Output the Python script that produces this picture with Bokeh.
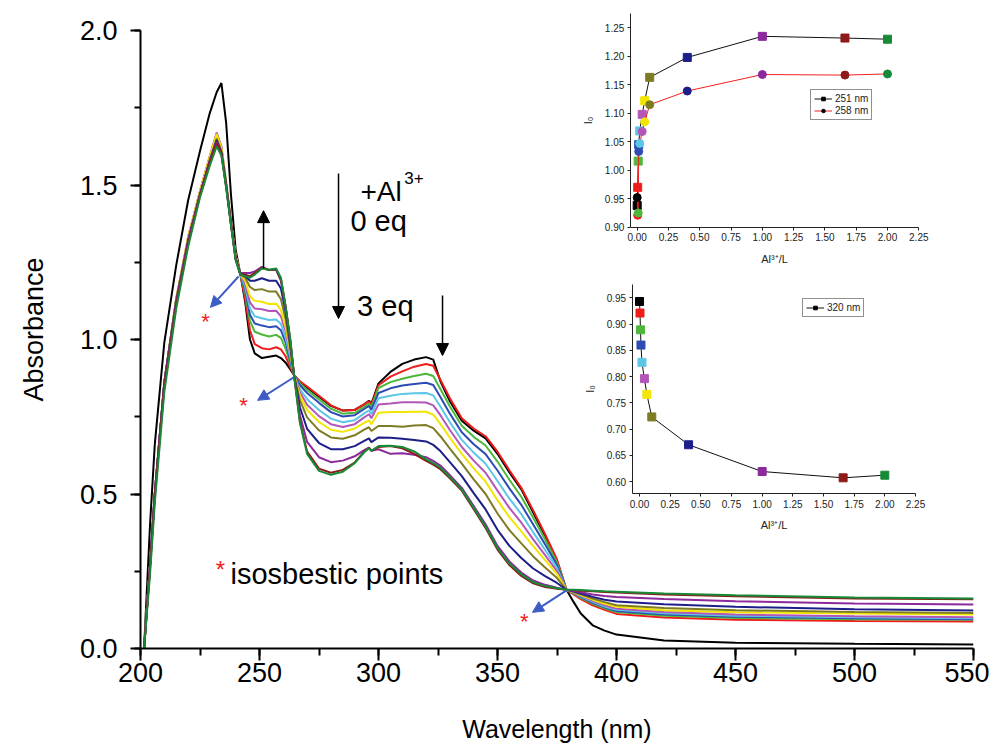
from bokeh.plotting import figure
from bokeh.models import (Range1d, LinearAxis, FixedTicker, SingleIntervalTicker,
                          NumeralTickFormatter, Arrow, NormalHead, Label, Legend,
                          LegendItem, ColumnDataSource)
from bokeh.embed import file_html
from bokeh.resources import INLINE

# ---------------- data ----------------
wavelength = [201.5, 204, 206, 210, 215, 220, 225, 229, 232, 234,
              236, 238, 240, 242, 244, 246, 248, 251, 254, 257,
              259, 261, 263, 264.5, 267, 270, 275, 280, 285, 290,
              294, 296, 297, 300, 305, 310, 315, 320, 323, 326,
              330, 335, 340, 345, 350, 355, 360, 365, 370, 375,
              379, 382, 385, 390, 395, 400, 420, 450, 500, 550]

abs_0eq = [0.0, 0.40, 0.66, 0.99, 1.24, 1.45, 1.61, 1.73, 1.80, 1.83,
           1.70, 1.47, 1.29, 1.21, 1.12, 1.00, 0.955, 0.940, 0.944, 0.948,
           0.940, 0.925, 0.902, 0.885, 0.862, 0.845, 0.815, 0.785, 0.770, 0.772,
           0.790, 0.802, 0.792, 0.858, 0.895, 0.921, 0.935, 0.943, 0.935, 0.865,
           0.800, 0.737, 0.705, 0.680, 0.630, 0.570, 0.515, 0.440, 0.365, 0.283,
           0.190, 0.150, 0.113, 0.075, 0.058, 0.045, 0.026, 0.019, 0.015, 0.013]
abs_red = [0.0, 0.27, 0.50, 0.86, 1.13, 1.33, 1.48, 1.59, 1.665, 1.62,
           1.50, 1.38, 1.27, 1.21, 1.13, 1.03, 0.985, 0.972, 0.968, 0.975,
           0.968, 0.945, 0.910, 0.885, 0.865, 0.848, 0.818, 0.787, 0.770, 0.772,
           0.790, 0.800, 0.788, 0.852, 0.880, 0.897, 0.912, 0.921, 0.915, 0.870,
           0.810, 0.745, 0.712, 0.687, 0.637, 0.577, 0.520, 0.447, 0.370, 0.288,
           0.190, 0.175, 0.160, 0.140, 0.125, 0.112, 0.100, 0.093, 0.089, 0.087]
abs_green = [0.0, 0.27, 0.50, 0.86, 1.13, 1.32, 1.47, 1.585, 1.66, 1.615,
             1.50, 1.38, 1.265, 1.21, 1.15, 1.06, 1.025, 1.016, 1.010, 1.015,
             1.005, 0.970, 0.920, 0.885, 0.858, 0.837, 0.806, 0.776, 0.760, 0.763,
             0.782, 0.793, 0.780, 0.843, 0.862, 0.873, 0.882, 0.889, 0.882, 0.840,
             0.783, 0.721, 0.685, 0.657, 0.605, 0.546, 0.491, 0.423, 0.353, 0.278,
             0.190, 0.178, 0.164, 0.145, 0.130, 0.118, 0.106, 0.099, 0.095, 0.093]
abs_blue = [0.0, 0.27, 0.50, 0.86, 1.13, 1.32, 1.47, 1.58, 1.655, 1.61,
            1.50, 1.38, 1.265, 1.21, 1.16, 1.08, 1.052, 1.045, 1.040, 1.043,
            1.030, 0.990, 0.930, 0.885, 0.852, 0.827, 0.795, 0.765, 0.751, 0.755,
            0.775, 0.785, 0.772, 0.827, 0.842, 0.851, 0.856, 0.860, 0.853, 0.814,
            0.760, 0.700, 0.661, 0.629, 0.576, 0.518, 0.465, 0.401, 0.337, 0.270,
            0.190, 0.179, 0.167, 0.148, 0.133, 0.121, 0.110, 0.103, 0.098, 0.095]
abs_cyan = [0.0, 0.27, 0.50, 0.86, 1.13, 1.32, 1.47, 1.585, 1.66, 1.615,
            1.50, 1.38, 1.265, 1.21, 1.17, 1.10, 1.075, 1.069, 1.063, 1.065,
            1.050, 1.005, 0.940, 0.885, 0.839, 0.807, 0.772, 0.744, 0.732, 0.739,
            0.761, 0.771, 0.758, 0.810, 0.818, 0.824, 0.826, 0.827, 0.819, 0.783,
            0.732, 0.675, 0.634, 0.598, 0.542, 0.485, 0.435, 0.376, 0.319, 0.260,
            0.190, 0.180, 0.169, 0.151, 0.136, 0.125, 0.114, 0.106, 0.101, 0.098]
abs_magenta = [0.0, 0.27, 0.50, 0.86, 1.13, 1.33, 1.48, 1.59, 1.67, 1.625,
               1.51, 1.385, 1.27, 1.21, 1.18, 1.12, 1.10, 1.098, 1.092, 1.093,
               1.075, 1.025, 0.950, 0.885, 0.829, 0.789, 0.752, 0.726, 0.717, 0.726,
               0.748, 0.758, 0.745, 0.790, 0.793, 0.797, 0.797, 0.796, 0.787, 0.755,
               0.707, 0.652, 0.608, 0.569, 0.511, 0.455, 0.407, 0.353, 0.302, 0.250,
               0.190, 0.181, 0.171, 0.154, 0.140, 0.129, 0.118, 0.110, 0.104, 0.101]
abs_yellow = [0.0, 0.27, 0.50, 0.86, 1.13, 1.33, 1.48, 1.59, 1.665, 1.62,
              1.505, 1.38, 1.27, 1.21, 1.19, 1.14, 1.125, 1.122, 1.115, 1.116,
              1.095, 1.040, 0.955, 0.885, 0.818, 0.772, 0.733, 0.708, 0.701, 0.712,
              0.730, 0.738, 0.726, 0.763, 0.765, 0.765, 0.766, 0.766, 0.757, 0.727,
              0.682, 0.630, 0.583, 0.540, 0.480, 0.425, 0.379, 0.331, 0.286, 0.241,
              0.190, 0.182, 0.173, 0.158, 0.145, 0.135, 0.124, 0.117, 0.113, 0.110]
abs_olive = [0.0, 0.27, 0.50, 0.86, 1.13, 1.32, 1.47, 1.58, 1.65, 1.61,
             1.50, 1.38, 1.265, 1.21, 1.20, 1.17, 1.16, 1.163, 1.155, 1.155,
             1.130, 1.065, 0.965, 0.885, 0.803, 0.748, 0.706, 0.683, 0.679, 0.690,
             0.708, 0.716, 0.704, 0.720, 0.720, 0.718, 0.722, 0.723, 0.713, 0.687,
             0.647, 0.598, 0.547, 0.500, 0.437, 0.383, 0.340, 0.298, 0.262, 0.228,
             0.190, 0.183, 0.175, 0.162, 0.150, 0.140, 0.131, 0.124, 0.118, 0.115]
abs_navy = [0.0, 0.27, 0.50, 0.86, 1.12, 1.32, 1.47, 1.575, 1.645, 1.605,
            1.50, 1.375, 1.26, 1.21, 1.205, 1.19, 1.19, 1.198, 1.190, 1.190,
            1.165, 1.090, 0.980, 0.885, 0.780, 0.711, 0.665, 0.645, 0.645, 0.655,
            0.672, 0.680, 0.668, 0.683, 0.682, 0.679, 0.675, 0.670, 0.659, 0.639,
            0.603, 0.558, 0.503, 0.450, 0.384, 0.332, 0.293, 0.259, 0.234, 0.212,
            0.190, 0.185, 0.178, 0.167, 0.158, 0.152, 0.143, 0.135, 0.127, 0.123]
abs_purple = [0.0, 0.27, 0.50, 0.86, 1.12, 1.32, 1.47, 1.575, 1.64, 1.60,
              1.495, 1.375, 1.26, 1.215, 1.215, 1.215, 1.22, 1.235, 1.225, 1.225,
              1.190, 1.105, 0.990, 0.885, 0.754, 0.669, 0.619, 0.603, 0.608, 0.622,
              0.642, 0.650, 0.640, 0.645, 0.630, 0.632, 0.627, 0.619, 0.607, 0.592,
              0.561, 0.520, 0.461, 0.402, 0.332, 0.282, 0.246, 0.220, 0.206, 0.197,
              0.190, 0.187, 0.182, 0.175, 0.170, 0.167, 0.160, 0.153, 0.146, 0.142]
abs_darkred = [0.0, 0.26, 0.49, 0.85, 1.11, 1.31, 1.465, 1.57, 1.635, 1.60,
               1.495, 1.375, 1.26, 1.21, 1.21, 1.205, 1.215, 1.232, 1.225, 1.228,
               1.195, 1.105, 0.995, 0.885, 0.734, 0.637, 0.582, 0.569, 0.578, 0.602,
               0.637, 0.650, 0.640, 0.652, 0.655, 0.648, 0.630, 0.607, 0.595, 0.580,
               0.551, 0.511, 0.451, 0.390, 0.320, 0.270, 0.235, 0.211, 0.199, 0.193,
               0.190, 0.189, 0.187, 0.185, 0.183, 0.181, 0.175, 0.169, 0.162, 0.159]
abs_darkgreen = [0.0, 0.24, 0.47, 0.83, 1.10, 1.30, 1.46, 1.56, 1.625, 1.595,
                 1.49, 1.37, 1.255, 1.21, 1.205, 1.200, 1.210, 1.230, 1.226, 1.230,
                 1.200, 1.105, 0.997, 0.885, 0.730, 0.630, 0.575, 0.562, 0.572, 0.600,
                 0.635, 0.648, 0.640, 0.655, 0.656, 0.652, 0.638, 0.612, 0.600, 0.585,
                 0.555, 0.515, 0.455, 0.395, 0.325, 0.275, 0.240, 0.215, 0.202, 0.195,
                 0.190, 0.190, 0.189, 0.187, 0.185, 0.184, 0.178, 0.172, 0.165, 0.162]

spectra = [abs_0eq, abs_red, abs_green, abs_blue, abs_cyan, abs_magenta,
           abs_yellow, abs_olive, abs_navy, abs_purple, abs_darkred, abs_darkgreen]
series_colors = ["#000000", "#f01c1c", "#4cb83a", "#2c4cb4", "#5cc6e6", "#b455b8",
                 "#f2e600", "#7e7c22", "#1e1e8a", "#8c2a9c", "#8e1a1a", "#178a38"]

# inset data
al_ratio = [0.0, 0.004, 0.008, 0.012, 0.02, 0.04, 0.06, 0.1, 0.4, 1.0, 1.66, 2.0]
i_251 = [0.938, 0.970, 1.016, 1.045, 1.069, 1.098, 1.122, 1.163, 1.198, 1.235, 1.232, 1.230]
i_258 = [0.952, 0.921, 0.925, 1.033, 1.047, 1.068, 1.085, 1.115, 1.139, 1.168, 1.167, 1.169]
i_320 = [0.943, 0.921, 0.889, 0.860, 0.827, 0.796, 0.766, 0.723, 0.670, 0.619, 0.607, 0.612]

inset_x_ticks = [0.0, 0.25, 0.5, 0.75, 1.0, 1.25, 1.5, 1.75, 2.0, 2.25]
inset1_y_ticks = [0.90, 0.95, 1.00, 1.05, 1.10, 1.15, 1.20, 1.25]
inset2_y_ticks = [0.60, 0.65, 0.70, 0.75, 0.80, 0.85, 0.90, 0.95]

# ---------------- layout ----------------
FONT = "Liberation Sans"
W, H = 989, 746
FL, FR, FT, FB = 140, 973, 10, 648          # frame edges in page pixels
Y0_PX, Y2_PX = 648, 30                     # pixel rows of A = 0 and A = 2
y_end = 2.0 * (FB - FT) / (Y0_PX - Y2_PX)

p = figure(width=W, height=H, output_backend="svg", toolbar_location=None,
           x_range=Range1d(200, 550), y_range=Range1d(0, y_end),
           x_axis_type=None, y_axis_type=None,
           min_border_left=FL, min_border_right=W - FR,
           min_border_top=FT, min_border_bottom=H - FB)
p.outline_line_color = None
p.background_fill_color = "white"
p.border_fill_color = "white"


def lin_range(v0, p0, v1, p1, a_px, b_px):
    k = (v1 - v0) / (p1 - p0)
    return Range1d(v0 + (a_px - p0) * k, v0 + (b_px - p0) * k)


p.extra_x_ranges = {
    "ix1": lin_range(0.0, 636.7, 2.25, 918.3, FL, FR),
    "ix2": lin_range(0.0, 639.0, 2.25, 915.0, FL, FR),
}
p.extra_y_ranges = {
    "iy1": lin_range(0.90, 226.7, 1.25, 27.3, FB, FT),
    "iy2": lin_range(0.60, 481.0, 0.95, 297.3, FB, FT),
}

# ---------------- main axes ----------------
xax = LinearAxis(ticker=SingleIntervalTicker(interval=50, num_minor_ticks=2),
                 axis_label="Wavelength (nm)")
yax = LinearAxis(ticker=SingleIntervalTicker(interval=0.5, num_minor_ticks=2),
                 formatter=NumeralTickFormatter(format="0.0"), bounds=(0, 2.0),
                 axis_label="Absorbance")
for ax in (xax, yax):
    ax.axis_line_width = 2
    ax.major_tick_line_width = 2
    ax.minor_tick_line_width = 2
    ax.major_tick_in = 0
    ax.minor_tick_in = 0
    ax.major_label_text_font = FONT
    ax.major_label_text_font_size = "27px"
    ax.major_label_text_color = "black"
    ax.axis_label_text_font = FONT
    ax.axis_label_text_font_style = "normal"
    ax.axis_label_text_color = "black"
xax.axis_label_text_font_size = "25px"
yax.axis_label_text_font_size = "27px"
xax.major_tick_out = 12
xax.minor_tick_out = 7
xax.major_label_standoff = 2
xax.axis_label_standoff = 30
yax.major_tick_out = 10
yax.minor_tick_out = 6
yax.major_label_standoff = 13
yax.axis_label_standoff = 28
p.add_layout(xax, "below")
p.add_layout(yax, "left")

# ---------------- spectra ----------------
for arr, col in zip(spectra, series_colors):
    p.line(wavelength, arr, line_color=col, line_width=2)

# ---------------- insets ----------------
src = ColumnDataSource(dict(x=al_ratio, a=i_251, b=i_258, c=i_320, col=series_colors))


def inset_axis(side, xr, yr, loc, bounds, ticks, label):
    ax = LinearAxis(x_range_name=xr, y_range_name=yr, fixed_location=loc, bounds=bounds,
                    ticker=FixedTicker(ticks=ticks), formatter=NumeralTickFormatter(format="0.00"),
                    axis_label=label)
    ax.axis_line_color = "#222222"
    ax.axis_line_width = 1
    ax.major_tick_line_color = "#222222"
    ax.major_tick_out = 3
    ax.major_tick_in = 0
    ax.minor_tick_line_color = None
    ax.major_label_text_font = FONT
    ax.major_label_text_font_size = "10px"
    ax.major_label_text_color = "#222222"
    ax.major_label_standoff = 3
    ax.axis_label_text_font = FONT
    ax.axis_label_text_font_size = "11px"
    ax.axis_label_text_font_style = "normal"
    ax.axis_label_text_color = "#222222"
    ax.axis_label_standoff = 8
    p.add_layout(ax, side)


inset_axis("below", "ix1", "iy1", 0.90, (-0.055, 2.25), inset_x_ticks, "Al³⁺/L")
inset_axis("left", "ix1", "iy1", -0.055, (0.90, 1.275), inset1_y_ticks, "I₀")
inset_axis("below", "ix2", "iy2", 0.5766, (-0.06, 2.25), inset_x_ticks, "Al³⁺/L")
inset_axis("left", "ix2", "iy2", -0.06, (0.5766, 0.975), inset2_y_ticks, "I₀")

r251 = p.line("x", "a", source=src, line_color="#111111", line_width=1,
              x_range_name="ix1", y_range_name="iy1")
s251 = p.scatter("x", "a", source=src, marker="square", size=8, fill_color="col",
                 line_color="col", x_range_name="ix1", y_range_name="iy1")
r258 = p.line("x", "b", source=src, line_color="#f02020", line_width=1,
              x_range_name="ix1", y_range_name="iy1")
s258 = p.scatter("x", "b", source=src, marker="circle", size=8, fill_color="col",
                 line_color="col", x_range_name="ix1", y_range_name="iy1")
r320 = p.line("x", "c", source=src, line_color="#111111", line_width=1,
              x_range_name="ix2", y_range_name="iy2")
s320 = p.scatter("x", "c", source=src, marker="square", size=8, fill_color="col",
                 line_color="col", x_range_name="ix2", y_range_name="iy2")


def style_legend(leg):
    leg.label_text_font = FONT
    leg.label_text_font_size = "10px"
    leg.label_text_color = "#222222"
    leg.glyph_width = 18
    leg.glyph_height = 9
    leg.label_height = 9
    leg.spacing = 1
    leg.padding = 3
    leg.margin = 0
    leg.label_standoff = 3
    leg.border_line_color = "#222222"
    leg.border_line_width = 1
    leg.background_fill_alpha = 1


leg1 = Legend(items=[LegendItem(label="251 nm", renderers=[r251, s251], index=0),
                     LegendItem(label="258 nm", renderers=[r258, s258], index=0)],
              location=(810 - FL, FB - 120))
leg2 = Legend(items=[LegendItem(label="320 nm", renderers=[r320, s320], index=0)],
              location=(802 - FL, FB - 317))
style_legend(leg1)
style_legend(leg2)
p.add_layout(leg1, "center")
p.add_layout(leg2, "center")

# ---------------- annotations ----------------
BLUE = "#3d5cc6"
blue_arrows = [(241.2, 1.204, 229.4, 1.104),
               (264.3, 0.877, 249.2, 0.803),
               (379.0, 0.188, 364.7, 0.117)]
for xs, ys, xe, ye in blue_arrows:
    p.add_layout(Arrow(end=NormalHead(size=11, fill_color=BLUE, line_color=BLUE),
                       x_start=xs, y_start=ys, x_end=xe, y_end=ye,
                       line_color=BLUE, line_width=2))

black_arrows = [(251.7, 1.23, 251.7, 1.417),
                (283.2, 1.537, 283.2, 1.068),
                (326.9, 1.142, 326.9, 0.948)]
for xs, ys, xe, ye in black_arrows:
    p.add_layout(Arrow(end=NormalHead(size=12, fill_color="black", line_color="black"),
                       x_start=xs, y_start=ys, x_end=xe, y_end=ye,
                       line_color="black", line_width=1.5))

texts = [("+Al", 292.4, 1.479, "28px", "black", "left"),
         ("3+", 310.8, 1.522, "17px", "black", "left"),
         ("0 eq", 288.2, 1.383, "29px", "black", "left"),
         ("3 eq", 291.0, 1.108, "29px", "black", "left"),
         ("isosbestic points", 237.8, 0.240, "29px", "black", "left"),
         ("*", 233.6, 0.256, "24px", "#f02020", "center"),
         ("*", 227.3, 1.058, "22px", "#f02020", "center"),
         ("*", 243.3, 0.786, "22px", "#f02020", "center"),
         ("*", 361.3, 0.0875, "22px", "#f02020", "center")]
for t, x, y, fs, col, al in texts:
    p.add_layout(Label(x=x, y=y, text=t, text_font=FONT, text_font_size=fs,
                       text_color=col, text_align=al, text_baseline="alphabetic"))

open("out.html", "w").write(file_html(p, INLINE))
